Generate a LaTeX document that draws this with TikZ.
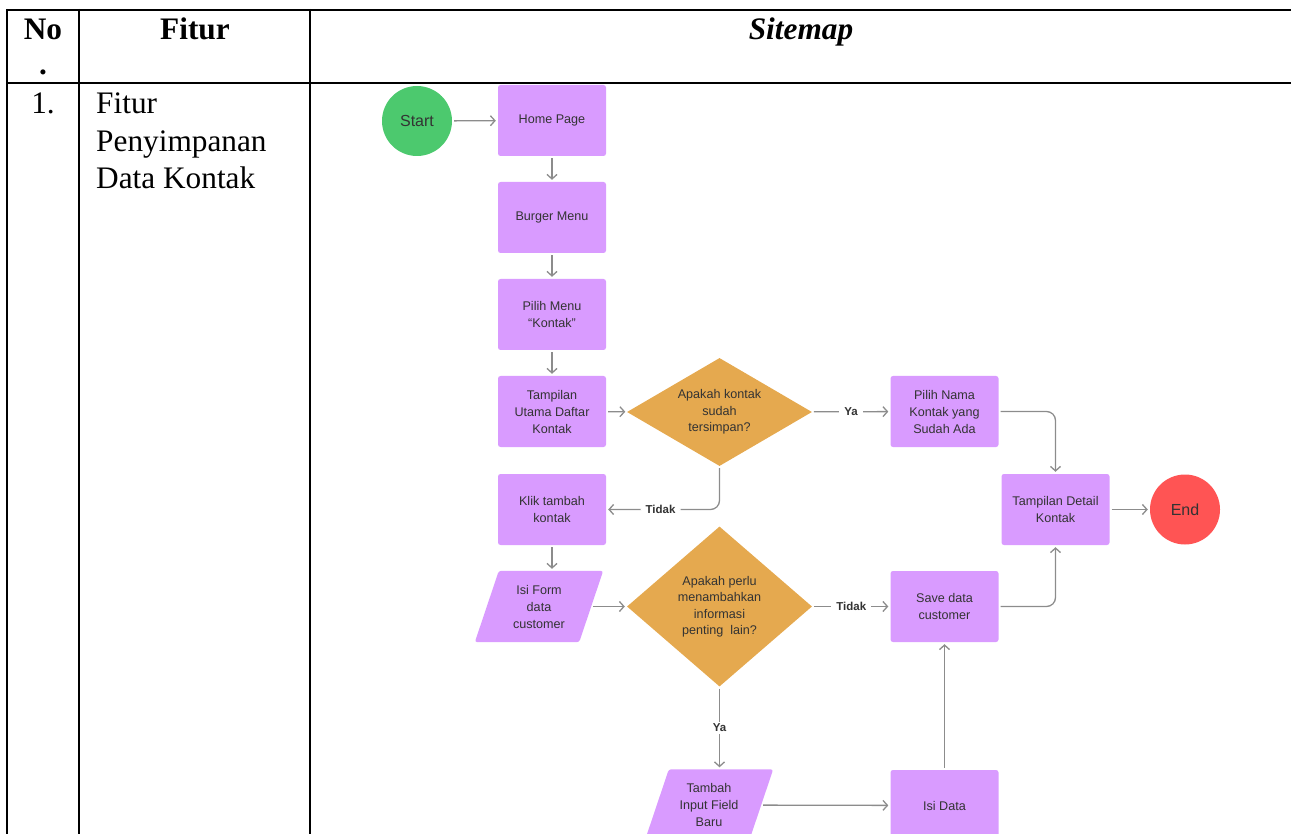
\documentclass[tikz,border=0pt]{standalone}
\usepackage{fontspec}
\setmainfont{Liberation Serif}
\newfontfamily\flowfont{Liberation Sans}
\usetikzlibrary{arrows.meta,shapes.geometric,backgrounds}
\definecolor{boxpurple}{HTML}{D99BFF}
\definecolor{decorange}{HTML}{E5A94F}
\definecolor{startgreen}{HTML}{4CC96E}
\definecolor{endred}{HTML}{FF5454}
\definecolor{conngray}{HTML}{8C8C8C}
\definecolor{txt}{HTML}{333333}
\tikzset{
  flowtext/.style={font=\flowfont\fontsize{12.6}{17}\selectfont, text=txt, align=center},
  stepbox/.style={flowtext, rectangle, rounded corners=2.5pt, fill=boxpurple, minimum width=108pt, minimum height=71pt, inner sep=1pt},
  parabox/.style={flowtext, rectangle, minimum width=104pt, minimum height=71pt, inner sep=1pt},
  decision/.style={flowtext, diamond, fill=decorange, inner sep=0pt, font=\flowfont\fontsize{12.6}{16.5}\selectfont},
  terminal/.style={circle, minimum size=70pt, inner sep=0pt, text=txt, font=\flowfont\fontsize{16}{18}\selectfont},
  conn/.style={draw=conngray, line width=1.3pt, -{Straight Barb[length=4.5pt,width=10pt]}, shorten >=2pt, shorten <=2pt},
  lbl/.style={fill=white, inner xsep=5pt, inner ysep=2pt, text=txt, font=\flowfont\bfseries\fontsize{11.5}{13}\selectfont},
  tabtext/.style={font=\fontsize{31.3}{37.5}\selectfont, text=black, inner sep=0pt},
  rule/.style={line width=2pt, black}
}
\begin{document}
\begin{tikzpicture}[x=1pt,y=-1pt]
\useasboundingbox (0,0) rectangle (1291,834);
\clip (0,0) rectangle (1291,834);
% table
\draw[rule] (6,10) -- (1291,10);
\draw[rule] (6,83) -- (1291,83);
\draw[rule] (7,9) -- (7,834);
\draw[rule] (79,9) -- (79,834);
\draw[rule] (310,9) -- (310,834);
\node[tabtext, anchor=base] (hno) at (43,40) {\bfseries No};
\node[tabtext, anchor=base] (hdot) at (43,75) {\bfseries .};
\node[tabtext, anchor=base] (hfitur) at (195,40) {\bfseries Fitur};
\node[tabtext, anchor=base] (hsite) at (801,40) {\bfseries\itshape Sitemap};
\node[tabtext, anchor=base] (rno) at (43,114) {1.};
\node[tabtext, anchor=base west, align=left] (rfitur) at (96,189) {Fitur\\Penyimpanan\\Data Kontak};
% flowchart nodes
\node[terminal, fill=startgreen] (start) at (417,121) {Start};
\node[stepbox] (home) at (552,120.5) {Home Page};
\node[stepbox] (burger) at (552,217.5) {Burger Menu};
\node[stepbox] (pilihmenu) at (552,314.5) {Pilih Menu\\“Kontak”};
\node[stepbox] (utama) at (552,411.5) {Tampilan\\Utama Daftar\\Kontak};
\node[decision, aspect=1.7, minimum width=185pt, minimum height=108pt] (d1) at (719.5,412) {Apakah kontak\\sudah\\tersimpan?};
\node[stepbox] (pilihnama) at (944.5,411.5) {Pilih Nama\\Kontak yang\\Sudah Ada};
\node[stepbox] (klik) at (552,509.5) {Klik tambah\\kontak};
\node[stepbox] (detail) at (1055.5,509.5) {Tampilan Detail\\Kontak};
\node[terminal, fill=endred] (end) at (1185,509.5) {End};
\node[parabox] (isiform) at (539,606.5) {Isi Form\\data\\customer};
\node[decision, aspect=1.15, minimum width=185pt, minimum height=160pt] (d2) at (719.5,606.5) {Apakah perlu\\menambahkan\\informasi\\penting\ \ lain?};
\node[stepbox] (save) at (944.5,606.5) {Save data\\customer};
\node[parabox] (tambah) at (709,805) {Tambah\\Input Field\\Baru};
\node[stepbox] (isidata) at (944.5,805.5) {Isi Data};
\begin{scope}[on background layer]
  \foreach \p in {isiform,tambah}{
    \fill[boxpurple, rounded corners=2.5pt]
      ([xshift=-12pt]\p.south west) -- ([xshift=12pt]\p.north west) --
      ([xshift=12pt]\p.north east) -- ([xshift=-12pt]\p.south east) -- cycle;
  }
\end{scope}
% connectors
\draw[conn] (start) -- (home);
\draw[conn] (home) -- (burger);
\draw[conn] (burger) -- (pilihmenu);
\draw[conn] (pilihmenu) -- (utama);
\draw[conn] (utama) -- (d1);
\draw[conn] (d1) -- node[lbl]{Ya} (pilihnama);
\draw[conn, rounded corners=9pt] (d1.south) |- node[lbl, pos=0.76]{Tidak} (klik.east);
\draw[conn, rounded corners=9pt] (pilihnama.east) -| (detail.north);
\draw[conn] (klik) -- (klik |- isiform.north);
\draw[conn] (isiform) -- (d2);
\draw[conn] (d2) -- node[lbl]{Tidak} (save);
\draw[conn] (d2) -- node[lbl]{Ya} (d2 |- tambah.north);
\draw[conn] (tambah) -- (isidata);
\draw[conn] (isidata) -- (save);
\draw[conn, rounded corners=9pt] (save.east) -| (detail.south);
\draw[conn] (detail) -- (end);
\end{tikzpicture}
\end{document}
